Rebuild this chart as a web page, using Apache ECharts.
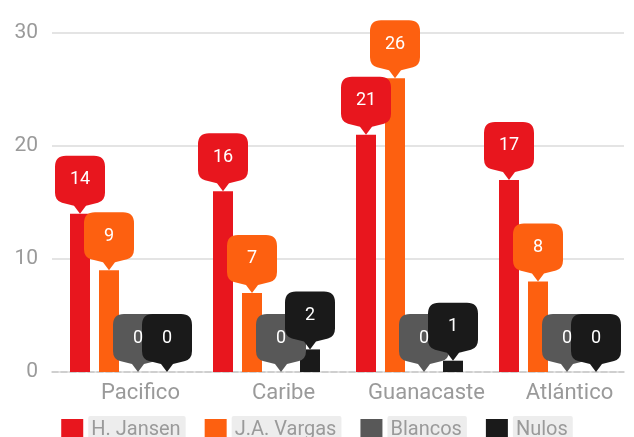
<!DOCTYPE html>
<html>
<head>
<meta charset="utf-8">
<script src="https://cdn.jsdelivr.net/npm/echarts@6/dist/echarts.min.js"></script>
<style>html,body{margin:0;padding:0;background:#fff;}#c{width:634px;height:437px;}</style>
</head>
<body>
<div id="c"></div>
<script>
var categories = ['Pacifico', 'Caribe', 'Guanacaste', 'Atlántico'];
var seriesNames = ['H. Jansen', 'J.A. Vargas', 'Blancos', 'Nulos'];
var jansen = [14, 16, 21, 17];
var vargas = [9, 7, 26, 8];
var blancos = [0, 0, 0, 0];
var nulos = [0, 2, 1, 0];
var yTicks = [0, 10, 20, 30];

var colors = ['#e8161e', '#fd6010', '#585858', '#1a1a1a'];
var values = [jansen, vargas, blancos, nulos];
var pinPath = 'path://M11,0 L39,0 Q50,0 50,11 L50,37 Q50,45 43,47 L31,50 L25,58 L19,50 L7,47 Q0,45 0,37 L0,11 Q0,0 11,0 Z';

var chart = echarts.init(document.getElementById('c'), null, {renderer: 'canvas'});
var series = seriesNames.map(function (name, s) {
  return {
    name: name,
    type: 'bar',
    data: values[s],
    barWidth: 20,
    barGap: '45%',
    itemStyle: {color: colors[s]},
    markPoint: {
      symbol: pinPath,
      symbolSize: [50, 58],
      symbolKeepAspect: false,
      symbolOffset: [0, '-50%'],
      itemStyle: {color: colors[s]},
      label: {show: true, color: '#fff', fontSize: 18, fontFamily: 'Roboto, sans-serif', offset: [0, -5]},
      data: values[s].map(function (v, i) { return {coord: [i, v], value: v}; })
    }
  };
});

chart.setOption({
  animation: false,
  color: colors,
  grid: {left: 52, right: 10, top: 33, bottom: 65},
  legend: {
    top: 411,
    left: 'center',
    itemWidth: 22,
    itemHeight: 22,
    itemGap: 19,
    icon: 'rect',
    data: seriesNames,
    textStyle: {
      fontSize: 20,
      lineHeight: 22,
      color: '#9a9a9a',
      fontFamily: 'Roboto, sans-serif',
      backgroundColor: '#ededed',
      padding: [3, 5, 3, 3],
      borderRadius: 2
    }
  },
  xAxis: {
    type: 'category',
    data: categories,
    axisLine: {lineStyle: {color: '#c8c8c8', type: 'dashed', width: 1.5}},
    axisTick: {show: false},
    axisLabel: {interval: 0, fontSize: 22, color: '#9a9a9a', margin: 10, fontFamily: 'Roboto, sans-serif', padding: [0, 0, 0, 34]}
  },
  yAxis: {
    type: 'value',
    min: yTicks[0],
    max: yTicks[yTicks.length - 1],
    interval: yTicks[1] - yTicks[0],
    axisLine: {show: false},
    axisTick: {show: false},
    axisLabel: {fontSize: 21, color: '#9a9a9a', margin: 14, fontFamily: 'Roboto, sans-serif'},
    splitLine: {lineStyle: {color: '#e4e4e4', width: 2}}
  },
  series: series
});
</script>
</body>
</html>
